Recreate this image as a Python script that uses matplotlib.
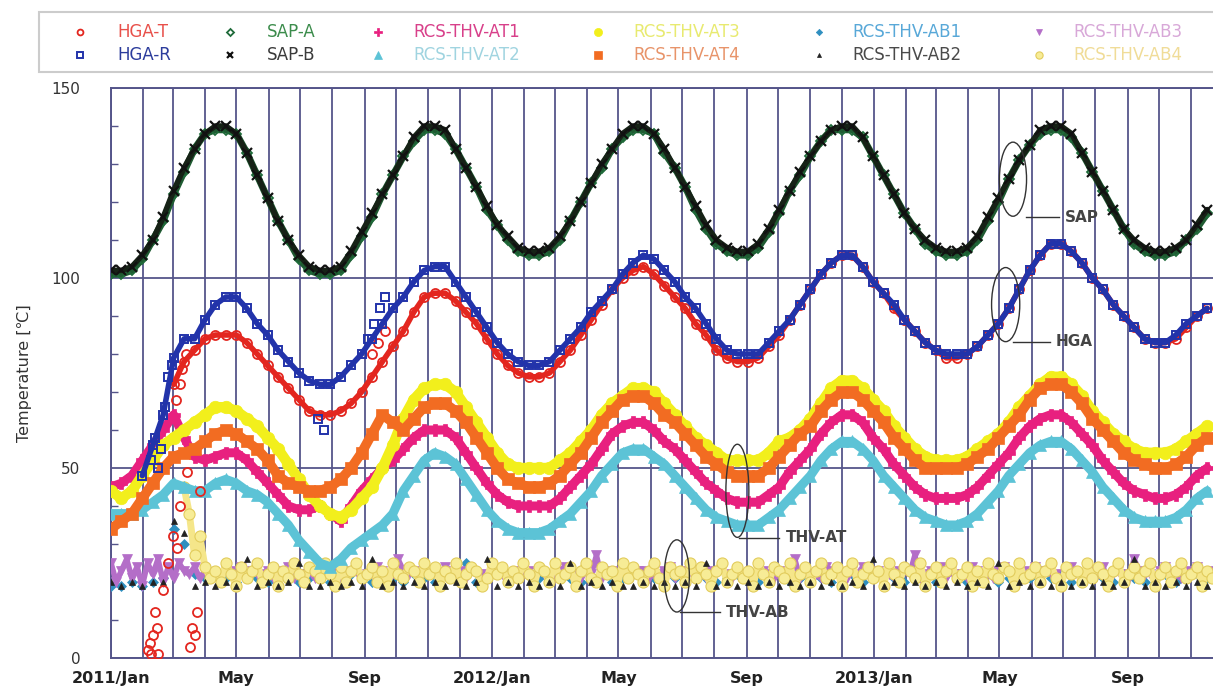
import numpy as np
import pandas as pd
import matplotlib
matplotlib.use("Agg")
import matplotlib.pyplot as plt
import matplotlib.dates as mdates
from matplotlib.patches import Ellipse, Rectangle
from matplotlib.lines import Line2D
from matplotlib.ticker import MultipleLocator

N = None
# ---------------- data (10-day sampling from 2011-01-01) ----------------
sap_b = [102,102,103,106,110,116,123,129,134,138,
         140,140,138,133,127,121,115,110,106,103,
         102,102,103,107,112,117,122,127,132,137,
         140,140,139,134,129,124,119,114,111,108,
         107,107,108,111,115,120,125,130,134,138,
         140,140,138,134,129,124,119,114,110,108,
         107,107,109,113,118,123,128,132,136,139,
         140,140,137,132,127,122,117,113,110,108,
         107,107,108,111,116,121,126,131,135,139,
         140,140,138,133,128,123,118,113,110,108,
         107,107,108,110,114,118]
sap_a = [101,101,102,105,110,115,122,128,134,138,
         139,139,138,133,127,121,115,110,105,102,
         101,101,102,106,111,116,122,127,132,136,
         139,139,138,134,129,124,118,114,110,107,
         106,106,107,110,115,120,125,129,134,137,
         139,139,138,133,129,124,118,113,109,107,
         106,106,108,112,117,123,127,132,136,139,
         139,139,137,132,127,122,117,113,109,107,
         106,106,107,110,115,120,126,131,135,138,
         139,139,137,133,128,123,118,113,109,107,
         106,106,107,110,113,117]
hga_r = [N,N,N,48,56,64,79,84,84,89,
         93,95,95,92,88,85,81,78,75,73,
         72,72,74,77,80,84,88,92,95,99,
         102,103,103,99,95,91,87,83,80,78,
         77,77,78,81,84,87,91,94,97,101,
         104,106,105,102,99,95,92,88,84,81,
         80,80,80,83,86,89,93,97,101,104,
         106,106,103,99,96,93,89,86,83,81,
         80,80,80,82,85,88,92,97,102,106,
         109,109,107,104,100,97,93,90,87,84,
         83,83,85,88,90,92]
hga_t = [N,N,N,N,N,N,72,78,81,84,
         85,85,85,83,80,77,74,71,68,65,
         64,64,65,67,70,74,78,82,86,91,
         95,96,96,94,91,88,84,80,77,75,
         74,74,75,78,81,85,89,93,97,100,
         102,103,101,98,95,92,88,85,81,79,
         78,78,79,82,85,89,93,97,101,104,
         106,106,103,99,96,92,89,86,83,81,
         79,79,80,82,85,88,92,97,102,106,
         109,109,107,104,100,97,93,90,87,84,
         83,83,84,87,90,92]
at3 = [44,42,44,48,52,56,58,60,62,64,
       66,66,65,63,61,58,55,51,47,43,
       40,38,37,39,42,45,50,56,63,68,
       71,72,72,70,66,62,58,54,51,50,
       50,50,50,52,54,57,60,64,67,69,
       71,71,70,67,64,61,58,56,54,52,
       52,52,52,54,57,58,60,63,67,71,
       73,73,71,68,65,61,58,55,53,52,
       52,52,53,55,57,59,62,66,69,72,
       74,74,72,69,65,62,59,57,55,54,
       54,54,55,57,59,61]
at4 = [34,36,38,42,46,50,53,54,55,57,
       59,60,59,57,55,52,48,46,45,44,
       44,45,47,50,54,59,64,62,60,63,
       66,67,67,65,62,58,54,50,47,46,
       45,45,46,48,51,54,58,62,65,68,
       69,69,67,64,62,59,56,53,51,49,
       48,48,48,50,53,56,59,61,65,68,
       70,70,68,65,62,58,55,52,50,50,
       50,50,51,53,55,58,61,64,68,71,
       72,72,70,67,63,60,57,54,52,51,
       50,50,51,53,56,58]
at1 = [45,46,48,52,56,60,64,58,53,52,
       53,54,54,52,49,46,43,40,39,39,
       40,38,36,40,44,47,50,52,55,58,
       60,60,60,58,54,50,46,43,41,40,
       40,40,40,42,45,48,51,55,59,61,
       62,62,60,57,55,52,49,46,44,42,
       41,41,41,43,45,49,52,55,59,62,
       64,64,62,58,55,51,48,45,43,42,
       42,42,43,45,48,51,54,58,61,63,
       64,64,62,59,56,52,49,46,44,43,
       42,42,43,45,48,50]
at2 = [38,38,38,39,41,43,46,45,44,44,
       46,47,46,44,43,41,38,35,31,28,
       25,24,26,29,31,33,35,38,44,48,
       52,54,53,51,47,43,39,36,34,33,
       33,33,34,36,38,41,44,48,51,54,
       55,55,53,51,48,45,42,39,37,36,
       35,35,35,37,39,42,45,48,52,55,
       57,57,55,52,48,45,42,39,37,36,
       35,35,36,38,41,44,48,51,54,56,
       57,57,55,52,49,45,42,39,37,36,
       36,36,37,39,42,44]
ab1 = [19,19,20,19,20,21,34,30,22,21,
       22,21,20,22,21,20,22,21,20,21,
       22,20,21,22,21,20,22,21,20,22,
       21,20,22,21,25,20,21,22,20,21,
       22,21,20,22,21,20,21,22,20,21,
       22,20,21,22,21,20,22,21,20,21,
       22,21,20,21,22,20,21,22,21,20,
       21,22,20,21,22,21,20,22,21,20,
       22,21,20,21,22,20,21,22,21,20,
       21,22,20,21,22,21,20,22,21,20,
       21,22,20,21,22,21]
ab2 = [20,19,20,19,20,20,36,33,19,20,
       19,20,19,26,19,20,19,20,25,19,
       19,20,19,20,19,26,19,20,19,20,
       19,20,19,20,19,20,26,19,20,19,
       20,19,20,19,25,19,20,19,20,19,
       19,20,19,20,19,20,19,25,19,20,
       19,20,19,20,19,20,19,20,19,20,
       19,20,19,26,19,20,19,20,19,20,
       19,20,19,20,19,25,19,20,19,20,
       19,20,19,20,19,20,19,20,26,19,
       20,19,20,19,20,19]
# 5-day sampling
ab3 = [25,20,23,26,21,24,19,25,22,26,20,24,21,25,23,22,24,21,23,22,
       22,21,23,23,22,24,21,23,22,22,23,21,23,22,24,21,22,22,23,21,
       22,22,23,24,21,22,23,23,21,22,22,24,23,21,22,26,23,22,23,21,
       23,22,22,21,24,23,22,23,21,23,22,22,21,24,23,22,22,21,23,22,
       23,21,23,22,22,21,23,24,22,22,21,23,22,27,21,22,23,22,24,21,
       22,23,23,21,22,22,23,24,21,22,23,23,22,22,21,23,22,24,22,21,
       23,22,22,21,24,23,22,21,22,23,22,26,21,23,22,22,21,24,23,22,
       22,21,23,22,24,22,21,23,22,22,21,23,23,22,27,21,22,23,22,24,
       21,23,22,22,21,24,23,22,22,21,23,24,22,21,22,23,22,24,21,23,
       22,22,21,23,24,22,22,21,23,22,24,21,22,23,22,21,26,23,22,22,
       21,23,24,22,22,21,23,22,24,21,22,23]
ab4 = [N,N,N,N,N,N,N,N,N,N,N,N,N,N,45,38,27,32,24,21,
       23,20,25,22,19,24,21,23,25,20,22,24,19,23,21,25,22,20,24,23,
       21,25,22,19,24,20,23,25,21,22,24,20,23,19,25,22,21,24,23,20,
       25,22,24,19,23,21,25,20,22,24,23,19,21,25,22,24,20,23,21,25,
       22,19,24,23,20,25,21,22,24,19,23,25,21,20,24,22,23,19,25,21,
       24,22,20,23,25,21,19,24,22,23,20,25,21,24,22,19,23,25,20,22,
       24,21,23,19,25,22,20,24,23,21,25,19,22,24,20,23,25,21,22,24,
       19,23,25,20,22,24,21,23,19,25,22,20,24,23,21,25,19,22,24,20,
       23,25,21,22,24,19,23,20,25,22,21,24,23,19,25,21,22,24,20,23,
       25,21,19,24,22,23,20,25,21,24,22,19,23,25,20,22,24,21,23,25,
       19,22,24,20,23,25,21,22,24,19,23,21]
# scattered early readings (day offset from 2011-01-01, value)
hga_t_extra_days = [35,37,38,40,42,44,45,50,55,59,63,66,73,76,78,80,82,85,62,66,68,72,250,256,262]
hga_t_extra_vals = [2,4,1,6,12,8,1,18,25,32,29,40,49,3,8,6,12,44,68,72,76,80,80,83,86]
hga_r_extra_days = [38,42,45,48,52,55,58,198,204,246,252,258,262]
hga_r_extra_vals = [52,58,50,55,66,74,77,63,60,84,88,92,95]

labels = ["HGA-T", "HGA-R", "SAP-A", "SAP-B", "RCS-THV-AT1", "RCS-THV-AT2",
          "RCS-THV-AT3", "RCS-THV-AT4", "RCS-THV-AB1", "RCS-THV-AB2",
          "RCS-THV-AB3", "RCS-THV-AB4"]

# ---------------- styles ----------------
NAVY = "#55558a"
sty = {
    "HGA-T": dict(marker="o", mfc="none", mec="#e3261f", ms=6.5, mew=1.3),
    "HGA-R": dict(marker="s", mfc="none", mec="#2233aa", ms=6, mew=1.4),
    "SAP-A": dict(marker="D", mfc="none", mec="#1f6b3a", ms=5.5, mew=1.3),
    "SAP-B": dict(marker="x", mfc="none", mec="#111111", ms=7, mew=1.6),
    "RCS-THV-AT1": dict(marker="P", mfc="#e8207f", mec="#e8207f", ms=8, mew=0.5),
    "RCS-THV-AT2": dict(marker="^", mfc="#5cc3d6", mec="#5cc3d6", ms=8, mew=0.5),
    "RCS-THV-AT3": dict(marker="o", mfc="#f2ef1c", mec="#f2ef1c", ms=9, mew=0.5),
    "RCS-THV-AT4": dict(marker="s", mfc="#f26c22", mec="#f26c22", ms=8, mew=0.5),
    "RCS-THV-AB1": dict(marker="D", mfc="#2f8fc0", mec="#2f8fc0", ms=5, mew=0.5),
    "RCS-THV-AB2": dict(marker="^", mfc="#222222", mec="#222222", ms=4.5, mew=0.5),
    "RCS-THV-AB3": dict(marker="v", mfc="#b46ec8", mec="#b46ec8", ms=7, mew=0.5),
    "RCS-THV-AB4": dict(marker="o", mfc="#f7ec96", mec="#e2cc5c", ms=8, mew=0.8),
}
# width of the dense band formed by the daily points (series colour)
band = {
    "HGA-T": ("#e3261f", 4.0), "HGA-R": ("#2233aa", 4.0),
    "SAP-A": ("#1f5b32", 5.0), "SAP-B": ("#162216", 4.0),
    "RCS-THV-AT1": ("#e8207f", 6.5), "RCS-THV-AT2": ("#5cc3d6", 6.5),
    "RCS-THV-AT3": ("#f2ef1c", 7.5), "RCS-THV-AT4": ("#f26c22", 7.0),
    "RCS-THV-AB3": ("#b46ec8", 4.0), "RCS-THV-AB4": ("#f5e68a", 5.0),
}
legend_text_color = {
    "HGA-T": "#e8504a", "HGA-R": "#2c3c9c", "SAP-A": "#3c8c4c", "SAP-B": "#3a3a3a",
    "RCS-THV-AT1": "#d8408a", "RCS-THV-AT2": "#a0d4e0", "RCS-THV-AT3": "#e8ea70",
    "RCS-THV-AT4": "#e8946a", "RCS-THV-AB1": "#58a8d8", "RCS-THV-AB2": "#4a4a4a",
    "RCS-THV-AB3": "#d8a8d8", "RCS-THV-AB4": "#f0dc98",
}

start = pd.Timestamp("2011-01-01")
d10 = pd.date_range(start, periods=len(sap_b), freq="10D")
d5 = pd.date_range(start, periods=len(ab4), freq="5D")


def arr(v):
    return np.array([np.nan if x is None else x for x in v], dtype=float)


W, H = 1213, 694
fig = plt.figure(figsize=(W / 100, H / 100), dpi=100)
ax = fig.add_axes([111 / W, 1 - 658 / H, 1 - 111 / W, (658 - 88) / H])


def plot(name, dates, vals, z, dense=False):
    if dense and name in band:
        c, lw = band[name]
        ax.plot(dates, arr(vals), "-", color=c, lw=lw, zorder=z - 0.01,
                solid_capstyle="round", solid_joinstyle="round")
    ax.plot(dates, arr(vals), linestyle="none", zorder=z, **sty[name])


plot("RCS-THV-AB1", d10, ab1, 3)
plot("RCS-THV-AB3", d5, ab3, 3.1, True)
plot("RCS-THV-AB4", d5, ab4, 3.2, True)
plot("RCS-THV-AB2", d10, ab2, 3.3)
plot("RCS-THV-AT2", d10, at2, 4, True)
plot("RCS-THV-AT1", d10, at1, 4.1, True)
plot("RCS-THV-AT3", d10, at3, 4.2, True)
plot("RCS-THV-AT4", d10, at4, 4.3, True)
plot("HGA-T", d10, hga_t, 5, True)
plot("HGA-T", start + pd.to_timedelta(hga_t_extra_days, unit="D"), hga_t_extra_vals, 5)
plot("HGA-R", d10, hga_r, 5.1, True)
plot("HGA-R", start + pd.to_timedelta(hga_r_extra_days, unit="D"), hga_r_extra_vals, 5.1)
plot("SAP-A", d10, sap_a, 6, True)
plot("SAP-B", d10, sap_b, 6.1, True)

# ---------------- axes ----------------
ax.set_xlim(start, start + pd.Timedelta(days=1055.6))
ax.set_ylim(0, 150)
ax.xaxis.set_minor_locator(mdates.MonthLocator())
tick_dates = pd.date_range("2011-01-01", "2013-09-01", freq="4MS")
tick_labels = [f"{d.year}/Jan" if d.month == 1 else d.strftime("%b") for d in tick_dates]
ax.set_xticks(tick_dates, tick_labels, fontsize=11.5, fontweight="bold", color="#222222")
ax.grid(True, which="both", axis="x", color=NAVY, lw=1.3)
ax.tick_params(axis="x", which="both", length=0, pad=9)

ax.set_yticks([0, 50, 100, 150])
ax.yaxis.set_minor_locator(MultipleLocator(10))
ax.grid(True, which="major", axis="y", color=NAVY, lw=1.3)
ax.tick_params(axis="y", which="major", length=0, pad=22, labelsize=11, labelcolor="#333333")
ax.tick_params(axis="y", which="minor", direction="in", length=5, width=1, color=NAVY)
ax.set_axisbelow(True)
for s in ["left", "bottom", "top"]:
    ax.spines[s].set_color(NAVY)
    ax.spines[s].set_linewidth(1.4)
ax.spines["right"].set_visible(False)
ax.set_ylabel("Temperature [℃]", fontsize=11.5, color="#333333",
              family=["DejaVu Sans", "Noto Sans CJK JP"])
ax.yaxis.set_label_coords(-0.072, 0.5)

# ---------------- annotations ----------------
def dn(day):
    return mdates.date2num(start + pd.Timedelta(days=day))

annots = [  # (center day, center value, width days, height, line y, line x0, line x1, label)
    (864, 126, 26, 19.5, 116, 876, 908, "SAP"),
    (857, 93, 27, 19.5, 83.2, 864, 899, "HGA"),
    (600, 44, 22, 24.5, 31.6, 602, 640, "THV-AT"),
    (542, 21.6, 24, 19, 12.1, 545, 583, "THV-AB"),
]
for cd, cv, w, h, ly, x0, x1, txt in annots:
    ax.add_patch(Ellipse((dn(cd), cv), w, h, fill=False, ec="#333333", lw=1.0, zorder=8))
    ax.plot([dn(x0), dn(x1)], [ly, ly], color="#333333", lw=1.0, zorder=8)
    ax.text(dn(x1 + 6), ly, txt, va="center", ha="left", fontsize=11,
            fontweight="bold", color="#444444", zorder=8)

# ---------------- legend (manual) ----------------
fig.add_artist(Rectangle((39 / W, 1 - 72 / H), 1.0, 60 / H, transform=fig.transFigure,
                         facecolor="white", edgecolor="#cccccc", lw=1.5))
col_mx = [80, 230, 378, 598, 819, 1039]
col_tx = [117, 267, 413, 633, 852, 1073]
row_y = [32, 55]
for i, name in enumerate(labels):
    c, r = divmod(i, 2)
    st = dict(sty[name])
    st["ms"] = st["ms"] * 0.65
    fy = 1 - row_y[r] / H
    fig.add_artist(Line2D([col_mx[c] / W], [fy], transform=fig.transFigure,
                          linestyle="none", **st))
    fig.text(col_tx[c] / W, fy, name, color=legend_text_color[name], fontsize=12,
             va="center", ha="left")

fig.savefig("out.png", dpi=100)
